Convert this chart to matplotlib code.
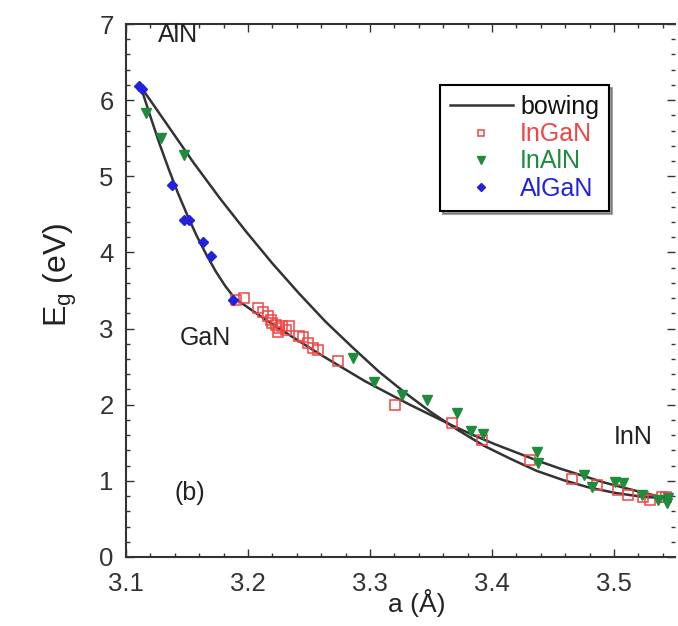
import matplotlib
matplotlib.use('Agg')
import matplotlib.pyplot as plt
from matplotlib.ticker import MultipleLocator

plt.rcParams['font.family'] = ['Liberation Sans', 'DejaVu Sans']

# bowing curves (a in angstrom, Eg in eV)
algan_fit_a = [3.112, 3.1197, 3.1274, 3.1351, 3.1428, 3.1505, 3.1582, 3.1659, 3.1736, 3.1813, 3.189]
algan_fit_e = [6.18, 5.80, 5.43, 5.09, 4.77, 4.48, 4.21, 3.97, 3.75, 3.56, 3.40]

ingan_fit_a = [3.189, 3.2068, 3.2246, 3.2424, 3.2602, 3.278, 3.2958, 3.3136, 3.3314, 3.3492, 3.367,
               3.3848, 3.4026, 3.4204, 3.4382, 3.456, 3.4738, 3.4916, 3.5094, 3.5272, 3.545]
ingan_fit_e = [3.40, 3.20, 3.01, 2.83, 2.65, 2.48, 2.31, 2.16, 2.01, 1.87, 1.73,
               1.60, 1.48, 1.37, 1.26, 1.16, 1.07, 0.98, 0.905, 0.83, 0.77]

inaln_fit_a = [3.112, 3.1337, 3.1553, 3.177, 3.1986, 3.2203, 3.2419, 3.2636, 3.2852, 3.3069, 3.3285,
               3.3502, 3.3718, 3.3935, 3.4151, 3.4368, 3.4584, 3.4801, 3.5017, 3.5234, 3.545]
inaln_fit_e = [6.18, 5.68, 5.18, 4.71, 4.27, 3.85, 3.46, 3.09, 2.76, 2.44, 2.16,
               1.90, 1.67, 1.46, 1.29, 1.13, 1.01, 0.91, 0.84, 0.79, 0.77]

# measured points
ingan_a = [3.190, 3.197, 3.208, 3.212, 3.216, 3.219, 3.220, 3.223, 3.2257, 3.228, 3.231, 3.234,
           3.2243, 3.242, 3.2453, 3.249, 3.253, 3.257, 3.274, 3.3205, 3.367, 3.3915, 3.431,
           3.4653, 3.4858, 3.5035, 3.5117, 3.524, 3.5295, 3.539, 3.543]
ingan_e = [3.38, 3.40, 3.27, 3.22, 3.16, 3.11, 3.07, 3.05, 3.01, 3.03, 2.98, 3.03,
           2.96, 2.90, 2.89, 2.81, 2.74, 2.72, 2.57, 2.00, 1.76, 1.54, 1.27,
           1.03, 0.95, 0.88, 0.81, 0.79, 0.75, 0.79, 0.79]

inaln_a = [3.1164, 3.1287, 3.1478, 3.2858, 3.3035, 3.326, 3.3465, 3.371, 3.383, 3.393,
           3.4366, 3.438, 3.475, 3.4817, 3.5008, 3.5076, 3.5227, 3.5363, 3.5432, 3.5445]
inaln_e = [5.83, 5.50, 5.28, 2.61, 2.30, 2.13, 2.06, 1.89, 1.65, 1.62,
           1.38, 1.23, 1.08, 0.92, 0.99, 0.97, 0.81, 0.75, 0.71, 0.77]

algan_a = [3.1109, 3.113, 3.138, 3.1478, 3.152, 3.163, 3.170, 3.1875]
algan_e = [6.18, 6.14, 4.89, 4.43, 4.43, 4.14, 3.95, 3.38]

red = '#f04545'
green = '#1e8c3c'
blue = '#2222dd'
dark = '#333333'
txt = '#222222'

fig = plt.figure(figsize=(6.78, 6.26), dpi=100)
ax = fig.add_axes([126 / 678, 69 / 626, 549 / 678, 533 / 626])

ax.plot(algan_fit_a, algan_fit_e, color=dark, lw=1.8, label='bowing')
ax.plot(ingan_fit_a, ingan_fit_e, color=dark, lw=1.8)
ax.plot(inaln_fit_a, inaln_fit_e, color=dark, lw=1.8)

ax.plot(ingan_a, ingan_e, 's', ms=6.5, mfc='none', mec=red, mew=1.1, label='InGaN')
ax.plot(inaln_a, inaln_e, 'v', ms=7.5, color=green, mec=green, label='InAlN')
ax.plot(algan_a, algan_e, 'D', ms=5.5, color=blue, mec=blue, label='AlGaN')

ax.set_xlim(3.1, 3.55)
ax.set_ylim(0, 7)
ax.xaxis.set_major_locator(MultipleLocator(0.1))
ax.xaxis.set_minor_locator(MultipleLocator(0.02))
ax.yaxis.set_major_locator(MultipleLocator(1))
ax.yaxis.set_minor_locator(MultipleLocator(0.2))
ax.set_xticks([3.1, 3.2, 3.3, 3.4, 3.5])
ax.set_xticklabels(['3.1', '3.2', '3.3', '3.4', '3.5'])
ax.tick_params(which='both', direction='in', top=True, right=True, colors=dark,
               labelsize=18.5, width=1)
ax.tick_params(which='major', length=6)
ax.tick_params(which='minor', length=3)
ax.tick_params(axis='x', which='major', pad=11)
ax.tick_params(axis='y', which='major', pad=9)
for s in ax.spines.values():
    s.set_linewidth(1.5)
    s.set_color(dark)
ax.spines['right'].set_visible(False)

ax.set_xlabel('a (Å)', fontsize=19, color=txt)
ax.xaxis.set_label_coords(0.53, -0.06)
ax.set_ylabel('E$_\\mathregular{g}$ (eV)', fontsize=23, color=txt)
ax.yaxis.set_label_coords(-0.085, 0.53)

ax.text(3.126, 6.86, 'AlN', fontsize=18, va='center', color=txt)
ax.text(3.1443, 2.88, 'GaN', fontsize=18, va='center', color=txt)
ax.text(3.500, 1.58, 'InN', fontsize=18, va='center', color=txt)
ax.text(3.140, 0.84, '(b)', fontsize=18, va='center', color=txt)

leg = ax.legend(loc='upper left', bbox_to_anchor=(440 / 678, 1 - 85 / 626),
                bbox_transform=fig.transFigure, borderaxespad=0, fontsize=18,
                frameon=True, fancybox=False, shadow=True, handlelength=2.5,
                handletextpad=0.3, labelspacing=0.13, markerscale=0.75,
                borderpad=0.4)
leg.get_frame().set_edgecolor('black')
leg.get_frame().set_linewidth(1.5)
for t, c in zip(leg.get_texts(), ['#111111', red, green, blue]):
    t.set_color(c)

fig.savefig('out.png', dpi=100)
